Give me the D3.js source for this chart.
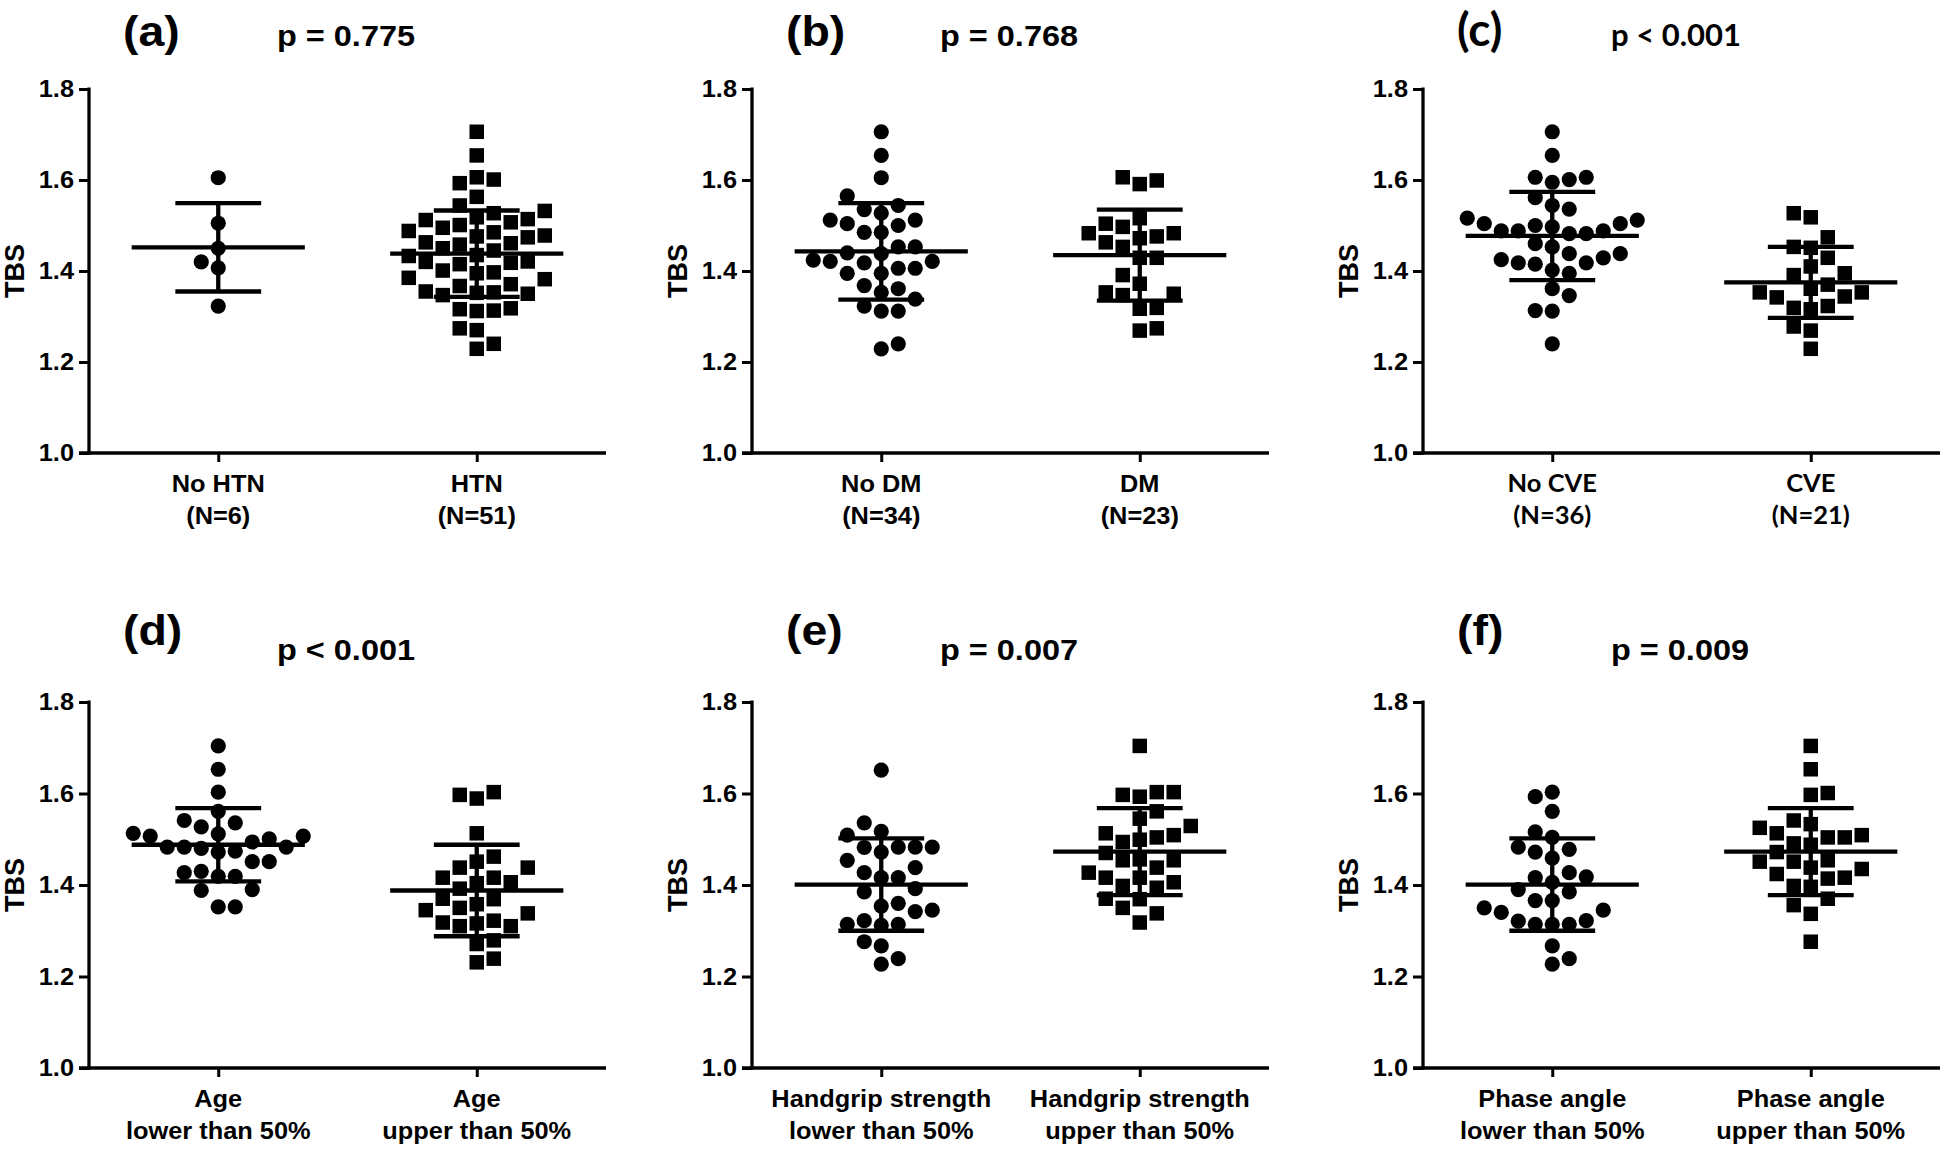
<!DOCTYPE html>
<html><head><meta charset="utf-8">
<script src="https://cdn.jsdelivr.net/npm/d3@7"></script>
<style>html,body{margin:0;padding:0;background:#fff;} svg{display:block;}</style>
</head><body>
<svg id="chart" width="1946" height="1150"></svg>
<script>
// ---------------- data ----------------
const yTicks = [1.0, 1.2, 1.4, 1.6, 1.8];
const yAxisTitle = "TBS";
const panelLabels = ["(a)", "(b)", "(c)", "(d)", "(e)", "(f)"];
const pTexts = ["p = 0.775", "p = 0.768", "p < 0.001", "p < 0.001", "p = 0.007", "p = 0.009"];

const groupLabels = [
  [["No HTN", "(N=6)"], ["HTN", "(N=51)"]],
  [["No DM", "(N=34)"], ["DM", "(N=23)"]],
  [["No CVE", "(N=36)"], ["CVE", "(N=21)"]],
  [["Age", "lower than 50%"], ["Age", "upper than 50%"]],
  [["Handgrip strength", "lower than 50%"], ["Handgrip strength", "upper than 50%"]],
  [["Phase angle", "lower than 50%"], ["Phase angle", "upper than 50%"]]
];

const noHTN = [1.605, 1.505, 1.450, 1.420, 1.407, 1.323];
const htn = [1.706, 1.654, 1.606, 1.601, 1.593, 1.563, 1.544, 1.532, 1.527, 1.518, 1.514, 1.512, 1.507, 1.501, 1.495, 1.488, 1.485, 1.478, 1.476, 1.474, 1.463, 1.461, 1.458, 1.450, 1.445, 1.435, 1.433, 1.421, 1.420, 1.418, 1.415, 1.401, 1.397, 1.395, 1.385, 1.382, 1.371, 1.367, 1.355, 1.353, 1.352, 1.350, 1.347, 1.318, 1.316, 1.313, 1.312, 1.274, 1.270, 1.240, 1.229];
const noDM = [1.706, 1.654, 1.605, 1.565, 1.544, 1.535, 1.527, 1.512, 1.512, 1.504, 1.500, 1.485, 1.485, 1.453, 1.453, 1.440, 1.438, 1.424, 1.421, 1.421, 1.418, 1.406, 1.406, 1.395, 1.395, 1.368, 1.361, 1.353, 1.338, 1.323, 1.312, 1.312, 1.240, 1.229];
const dm = [1.606, 1.599, 1.591, 1.516, 1.504, 1.497, 1.483, 1.483, 1.476, 1.472, 1.463, 1.453, 1.429, 1.429, 1.391, 1.372, 1.353, 1.350, 1.347, 1.319, 1.317, 1.274, 1.269];
const noCVE = [1.706, 1.654, 1.606, 1.606, 1.601, 1.595, 1.561, 1.544, 1.536, 1.516, 1.512, 1.504, 1.504, 1.500, 1.497, 1.488, 1.488, 1.488, 1.482, 1.482, 1.460, 1.453, 1.438, 1.438, 1.429, 1.425, 1.418, 1.418, 1.415, 1.402, 1.395, 1.361, 1.346, 1.313, 1.312, 1.240];
const cve = [1.527, 1.518, 1.474, 1.453, 1.451, 1.429, 1.410, 1.395, 1.391, 1.370, 1.361, 1.353, 1.353, 1.344, 1.342, 1.323, 1.319, 1.316, 1.278, 1.269, 1.229];
const ageLow = [1.704, 1.653, 1.603, 1.561, 1.541, 1.536, 1.527, 1.513, 1.512, 1.507, 1.507, 1.501, 1.494, 1.483, 1.483, 1.483, 1.480, 1.474, 1.472, 1.451, 1.451, 1.430, 1.427, 1.419, 1.419, 1.390, 1.388, 1.352, 1.352];
const ageHigh = [1.603, 1.597, 1.589, 1.513, 1.462, 1.451, 1.438, 1.438, 1.416, 1.416, 1.406, 1.404, 1.392, 1.370, 1.369, 1.358, 1.350, 1.345, 1.338, 1.322, 1.318, 1.316, 1.310, 1.310, 1.279, 1.271, 1.239, 1.231];
const gripLow = [1.651, 1.536, 1.517, 1.509, 1.483, 1.483, 1.483, 1.482, 1.472, 1.454, 1.438, 1.427, 1.416, 1.416, 1.392, 1.385, 1.360, 1.354, 1.345, 1.342, 1.322, 1.314, 1.314, 1.312, 1.276, 1.267, 1.239, 1.227];
const gripHigh = [1.704, 1.603, 1.603, 1.597, 1.593, 1.561, 1.545, 1.529, 1.513, 1.509, 1.504, 1.499, 1.494, 1.470, 1.456, 1.454, 1.454, 1.438, 1.427, 1.416, 1.416, 1.406, 1.398, 1.394, 1.370, 1.369, 1.350, 1.338, 1.318];
const phaseLow = [1.603, 1.593, 1.561, 1.516, 1.504, 1.483, 1.478, 1.472, 1.459, 1.427, 1.418, 1.416, 1.406, 1.390, 1.385, 1.366, 1.366, 1.350, 1.345, 1.340, 1.322, 1.321, 1.314, 1.314, 1.314, 1.267, 1.239, 1.227];
const phaseHigh = [1.704, 1.653, 1.601, 1.597, 1.541, 1.533, 1.525, 1.513, 1.509, 1.504, 1.504, 1.491, 1.488, 1.472, 1.454, 1.451, 1.451, 1.438, 1.435, 1.424, 1.416, 1.414, 1.398, 1.396, 1.370, 1.356, 1.337, 1.276];

const groupValues = [[noHTN, htn], [noDM, dm], [noCVE, cve], [ageLow, ageHigh], [gripLow, gripHigh], [phaseLow, phaseHigh]];
// mean and SD bars as drawn in the figure
const groupMeans = [[1.452, 1.438], [1.443, 1.435], [1.477, 1.375], [1.488, 1.388], [1.401, 1.473], [1.401, 1.473]];
const groupSDs = [[0.097, 0.095], [0.106, 0.100], [0.097, 0.078], [0.080, 0.100], [0.101, 0.095], [0.101, 0.095]];

// ---------------- layout ----------------
const svg = d3.select("#chart");
svg.append("rect").attr("width", 1946).attr("height", 1150).attr("fill", "#fff");

const colX = [89, 752, 1423];
const axisW = 517;
const rowTop = [89, 702];
const rowBot = [453, 1068];
const labelBase = [46, 645];
const pBase = [46, 660];
const FONT = "'Liberation Sans', Arial, sans-serif";
const FONT_C = "Lato, 'Open Sans', sans-serif";
const SX = 1.1;

function txt(g, x, y, s, o) {
  const t = g.append("text")
    .attr("transform", `translate(${x},${y}) scale(${o.sx || 1},1)`)
    .attr("text-anchor", o.anchor || "middle")
    .attr("font-family", o.family || FONT)
    .attr("font-weight", o.weight || "bold")
    .attr("font-size", o.size)
    .attr("fill", "#000")
    .text(s);
  if (o.dy) t.attr("dy", o.dy);
  return t;
}

// beeswarm-like slot layout (Prism style rows)
function slotLayout(values, y, spacing, minDy) {
  const order = values.map((v, i) => i).sort((a, b) => values[a] - values[b]);
  const placed = [];
  const offs = new Array(values.length);
  order.forEach((i, n) => {
    const py = y(values[i]);
    const pref = n % 2 === 0 ? -1 : 1;
    for (let k = 0; k < 200; k++) {
      const s = k === 0 ? 0 : (k % 2 === 1 ? pref : -pref) * Math.ceil(k / 2);
      if (!placed.some(p => p.s === s && Math.abs(p.py - py) < minDy)) {
        placed.push({ s, py });
        offs[i] = s * spacing;
        break;
      }
    }
  });
  return offs;
}

for (let p = 0; p < 6; p++) {
  const r = Math.floor(p / 3), c = p % 3;
  const x0 = colX[c];
  const g = svg.append("g");
  const y = d3.scaleLinear().domain([1.0, 1.8]).range([rowBot[r], rowTop[r]]);
  const x = d3.scalePoint().domain([0, 1]).range([x0, x0 + axisW]).padding(0.5);
  const step = x.step();
  const altFont = (p === 2);

  // y axis
  const ya = g.append("g").attr("transform", `translate(${x0},0)`)
    .call(d3.axisLeft(y).tickValues(yTicks).tickFormat(d3.format(".1f")).tickSize(10).tickPadding(6));
  ya.select(".domain").remove();
  ya.selectAll(".tick line").attr("stroke", "#000").attr("stroke-width", 3);
  ya.selectAll(".tick text").remove();
  yTicks.forEach(t => txt(g, x0 - 15, y(t), d3.format(".1f")(t), { size: 23.5, anchor: "end", sx: 1.08, dy: "0.36em" }));
  g.append("line").attr("x1", x0).attr("x2", x0).attr("y1", y(1.8) - 1.5).attr("y2", y(1.0) + 1.6)
    .attr("stroke", "#000").attr("stroke-width", 3.3);

  // x axis
  const xa = g.append("g").attr("transform", `translate(0,${rowBot[r]})`)
    .call(d3.axisBottom(x).tickSize(9).tickFormat(""));
  xa.select(".domain").remove();
  xa.selectAll(".tick line").attr("stroke", "#000").attr("stroke-width", 3);
  g.append("line").attr("x1", x0 - 10).attr("x2", x0 + axisW).attr("y1", rowBot[r]).attr("y2", rowBot[r])
    .attr("stroke", "#000").attr("stroke-width", 3.3);

  // category labels
  [0, 1].forEach(k => {
    const lines = groupLabels[p][k];
    lines.forEach((s, li) => txt(g, x(k), rowBot[r] + 39 + li * 31.5, s,
      altFont ? { size: 25.5, family: FONT_C, sx: 1.0 } : { size: 23.5, sx: 1.08 }));
  });

  // y title
  g.append("text")
    .attr("transform", `translate(${x0 - 65},${(y(1.0) + y(1.8)) / 2}) rotate(-90)`)
    .attr("text-anchor", "middle").attr("font-family", FONT).attr("font-weight", "bold")
    .attr("font-size", 27).text(yAxisTitle);

  // panel label and p value
  txt(g, x0 + 34, labelBase[r], panelLabels[p], altFont ? { size: 46, anchor: "start", family: FONT_C } : { size: 43, anchor: "start", sx: 1.08 });
  txt(g, x0 + 188, pBase[r], pTexts[p], altFont ? { size: 31, anchor: "start", family: FONT_C } : { size: 29, anchor: "start", sx: 1.12 });

  // points
  [0, 1].forEach(k => {
    const vals = groupValues[p][k];
    const offs = slotLayout(vals, y, 17, 18);
    const cx = x(k);
    if (k === 0) {
      g.selectAll(null).data(vals).enter().append("circle")
        .attr("cx", (d, i) => cx + offs[i]).attr("cy", d => y(d)).attr("r", 7.6).attr("fill", "#000");
    } else {
      const s = 14.5;
      g.selectAll(null).data(vals).enter().append("rect")
        .attr("x", (d, i) => cx + offs[i] - s / 2).attr("y", d => y(d) - s / 2)
        .attr("width", s).attr("height", s).attr("fill", "#000");
    }
    // mean & SD
    const m = groupMeans[p][k], sd = groupSDs[p][k];
    const mw = step * 0.335, sw = step * 0.166;
    g.append("line").attr("x1", cx - mw).attr("x2", cx + mw).attr("y1", y(m)).attr("y2", y(m))
      .attr("stroke", "#000").attr("stroke-width", 4.3);
    [m + sd, m - sd].forEach(v => g.append("line").attr("x1", cx - sw).attr("x2", cx + sw)
      .attr("y1", y(v)).attr("y2", y(v)).attr("stroke", "#000").attr("stroke-width", 4.3));
    g.append("line").attr("x1", cx).attr("x2", cx).attr("y1", y(m + sd)).attr("y2", y(m - sd))
      .attr("stroke", "#000").attr("stroke-width", 4.3);
  });
}
</script>
</body></html>
